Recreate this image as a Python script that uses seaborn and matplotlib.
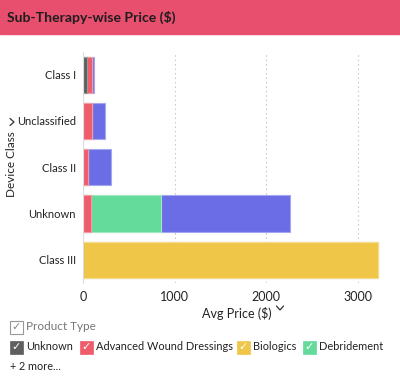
import numpy as np
import pandas as pd
import matplotlib.pyplot as plt
import seaborn as sns
from matplotlib.patches import Rectangle
from matplotlib.lines import Line2D

# data
device_classes = ["Class I", "Unclassified", "Class II", "Unknown", "Class III"]
series_names = ["Unknown", "Advanced Wound Dressings", "Biologics", "Debridement", "Other"]
unknown_vals = [45, 0, 0, 0, 0]
awd_vals = [52, 100, 60, 87, 0]
biologics_vals = [0, 0, 0, 0, 3224]
debridement_vals = [0, 0, 0, 770, 0]
other_vals = [28, 142, 244, 1404, 0]
colors = ["#5f5f5f", "#ef5d6c", "#f0c648", "#64db9b", "#6b6de6"]
edge_colors = ["#9a9a9a", "#f59aa3", "#f7dc8d", "#a2e9c2", "#a5a6f0"]

sns.set_style("white")
plt.rcParams["font.family"] = ["Lato", "DejaVu Sans"]

df = pd.DataFrame({"cls": device_classes,
                   "Unknown": unknown_vals,
                   "Advanced Wound Dressings": awd_vals,
                   "Biologics": biologics_vals,
                   "Debridement": debridement_vals,
                   "Other": other_vals})
cum = df[series_names].cumsum(axis=1)

fig = plt.figure(figsize=(4, 3.88), dpi=100)
ax = fig.add_axes([0.207, 0.271, 0.768, 0.596])

# draw stacked bars, widest cumulative layer first
for i in reversed(range(len(series_names))):
    name = series_names[i]
    sns.barplot(x=cum[name], y=df["cls"], order=device_classes, orient="h",
                color=colors[i], width=0.78, saturation=1, ax=ax,
                edgecolor=edge_colors[i], linewidth=0.8)

ax.set_xlim(0, 3350)
ax.set_xticks([0, 1000, 2000, 3000])
ax.set_xticklabels(["0", "1000", "2000", "3000"])
ax.tick_params(axis="x", length=0, labelsize=9, colors="#222222", pad=6)
ax.tick_params(axis="y", length=0, labelsize=8, colors="#222222", pad=5)
for s in ["top", "right", "bottom"]:
    ax.spines[s].set_visible(False)
ax.spines["left"].set_color("#dddddd")
ax.xaxis.grid(True, linestyle=(0, (1.5, 2.5)), color="#cccccc", linewidth=0.8)
ax.set_axisbelow(True)
ax.set_xlabel("Avg Price ($)", fontsize=9, color="#222222", labelpad=3)
ax.set_ylabel("")
fig.text(12 / 400, 1 - 164 / 388, "Device Class", fontsize=8.5, color="#222222",
         rotation=90, ha="center", va="center")

# header bar
fig.patches.append(Rectangle((0, 1 - 34 / 388), 1, 34 / 388, transform=fig.transFigure,
                             color="#e84e6d", zorder=0))
fig.text(7 / 400, 1 - 17 / 388, "Sub-Therapy-wise Price ($)", fontsize=10.1,
         fontweight="bold", color="#1e1e1e", va="center", ha="left")

# chevrons next to axis titles (pixel coords, y down)
def chevron(xc, yc, direction):
    w, h = 3.5, 2.0
    if direction == "down":
        xs = [xc - w, xc, xc + w]
        ys = [yc - h, yc + h, yc - h]
    else:
        xs = [xc - h, xc + h, xc - h]
        ys = [yc - w, yc, yc + w]
    fig.add_artist(Line2D([x / 400 for x in xs], [1 - y / 388 for y in ys],
                          transform=fig.transFigure, color="#333333", linewidth=0.9))

chevron(280, 308, "down")
chevron(12, 122, "right")

# legend
def checkbox(x, y, face, outline=False):
    if outline:
        fig.patches.append(Rectangle((x / 400, 1 - (y + 6.5) / 388), 13 / 400, 13 / 388,
                                     transform=fig.transFigure, facecolor="white",
                                     edgecolor="#999999", linewidth=0.8))
        fig.text((x + 6.5) / 400, 1 - y / 388, "✓", fontsize=8, color="#888888",
                 ha="center", va="center", family="DejaVu Sans")
    else:
        fig.patches.append(Rectangle((x / 400, 1 - (y + 6.5) / 388), 13 / 400, 13 / 388,
                                     transform=fig.transFigure, facecolor=face,
                                     edgecolor=face, linewidth=0.5))
        fig.text((x + 6.5) / 400, 1 - y / 388, "✓", fontsize=8, color="white",
                 ha="center", va="center", family="DejaVu Sans")

checkbox(10, 327, None, outline=True)
fig.text(26 / 400, 1 - 327 / 388, "Product Type", fontsize=8.5, color="#777777",
         va="center", ha="left")

legend_x = [10, 80, 237, 303]
for i in range(4):
    checkbox(legend_x[i], 347, colors[i])
    fig.text((legend_x[i] + 16) / 400, 1 - 347 / 388, series_names[i], fontsize=7.9,
             color="#222222", va="center", ha="left")
fig.text(10 / 400, 1 - 367 / 388, "+ 2 more...", fontsize=7.8, color="#222222",
         va="center", ha="left")

fig.savefig("out.png", dpi=100)
